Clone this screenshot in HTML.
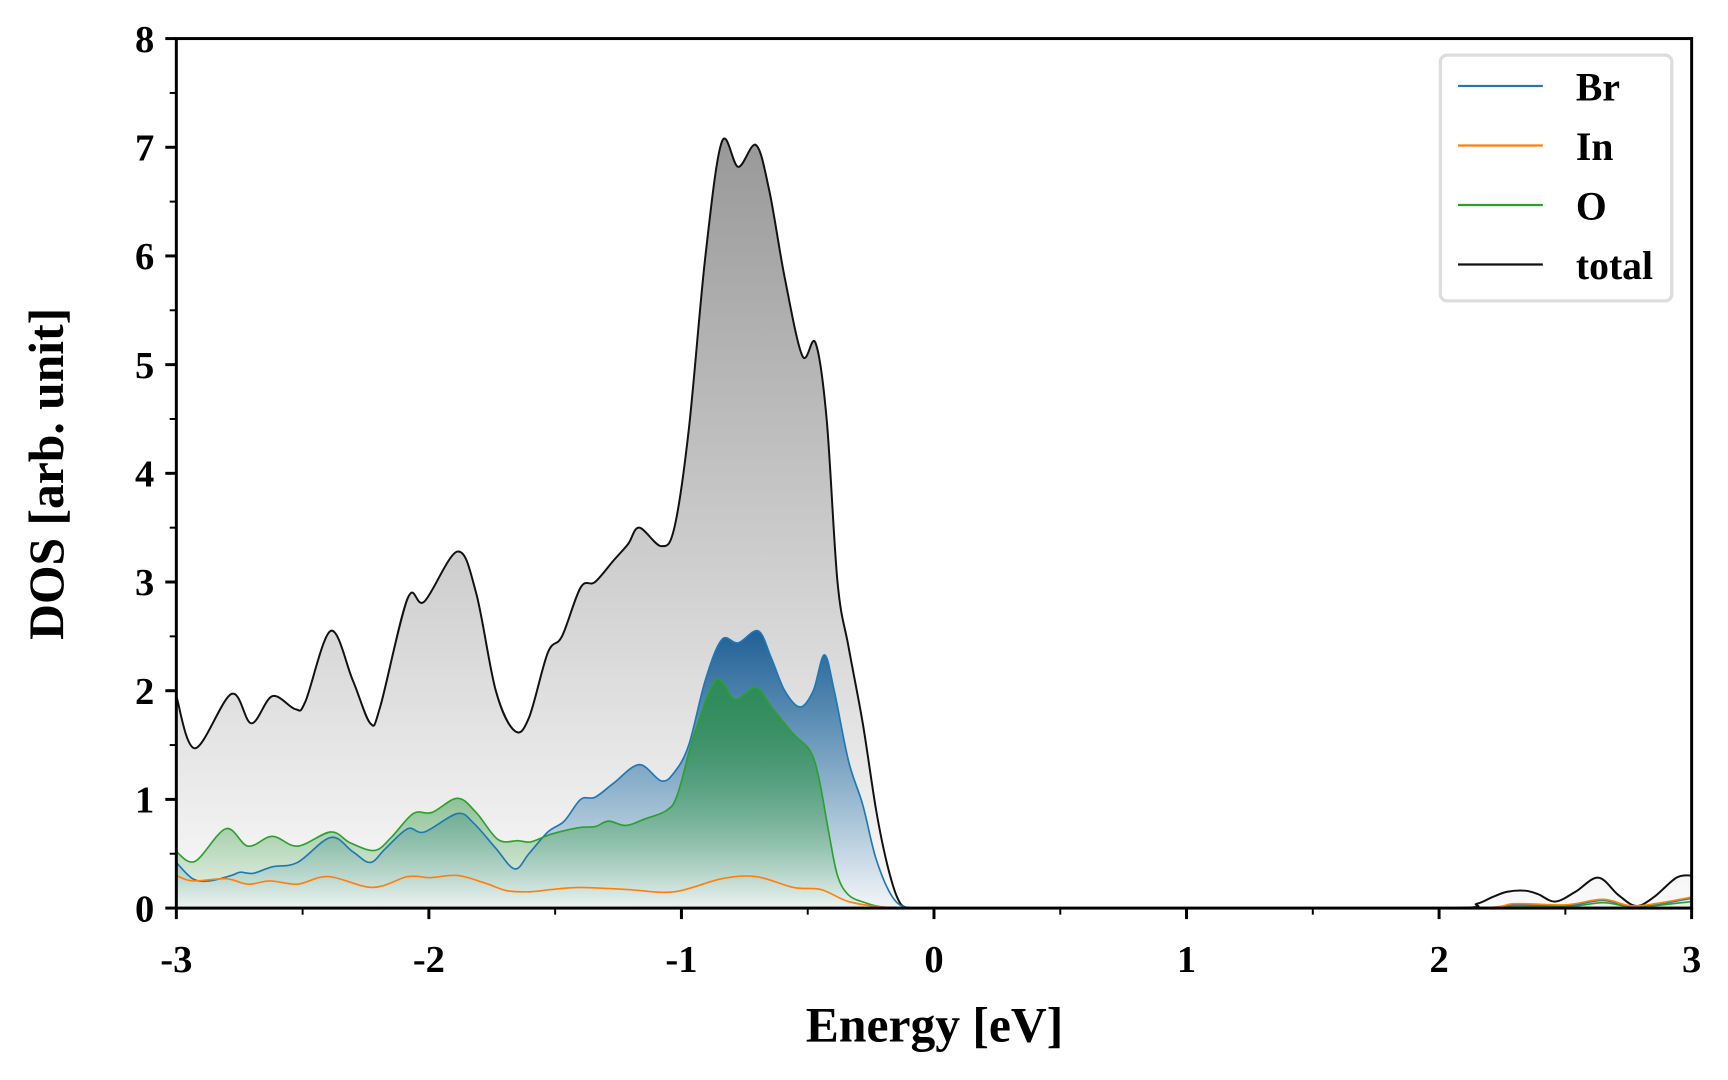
<!DOCTYPE html>
<html><head><meta charset="utf-8"><style>
html,body{margin:0;padding:0;background:#fff;width:1728px;height:1080px;overflow:hidden}
svg text{font-family:"Liberation Serif",serif;font-weight:bold;fill:#000}
</style></head><body>
<svg id="chart" width="1728" height="1080" viewBox="0 0 1568 980" xmlns="http://www.w3.org/2000/svg">
<defs>
<linearGradient id="gTot" gradientUnits="userSpaceOnUse" x1="0" y1="130" x2="0" y2="824">
<stop offset="0" stop-color="#999"/><stop offset="1" stop-color="#fafafa"/></linearGradient>
<linearGradient id="gBr" gradientUnits="userSpaceOnUse" x1="0" y1="570" x2="0" y2="824">
<stop offset="0" stop-color="#1f5f95"/><stop offset="1" stop-color="#1f77b4" stop-opacity="0.03"/></linearGradient>
<linearGradient id="gO" gradientUnits="userSpaceOnUse" x1="0" y1="615" x2="0" y2="824">
<stop offset="0" stop-color="#2e8b57"/><stop offset="1" stop-color="#2ca02c" stop-opacity="0.03"/></linearGradient>
</defs>
<g id="fills"></g><g id="lines"></g><g id="axes"></g>
<g>
<rect x="1307" y="50" width="210" height="223" rx="6" fill="#fff" stroke="#ddd" stroke-width="3"/>
<line x1="1323" y1="78" x2="1400" y2="78" stroke="#1f77b4" stroke-width="2"/><text x="1430" y="91" font-size="36">Br</text>
<line x1="1323" y1="132" x2="1400" y2="132" stroke="#ff7f0e" stroke-width="2"/><text x="1430" y="145" font-size="36">In</text>
<line x1="1323" y1="186" x2="1400" y2="186" stroke="#2ca02c" stroke-width="2"/><text x="1430" y="199" font-size="36">O</text>
<line x1="1323" y1="240" x2="1400" y2="240" stroke="#111" stroke-width="2"/><text x="1430" y="253" font-size="36">total</text>
</g>
<text x="848" y="945" font-size="45" text-anchor="middle">Energy [eV]</text>
<text transform="translate(57,430) rotate(-90)" font-size="45" text-anchor="middle">DOS [arb. unit]</text>
</svg>
<script>
const totalE=[-3,-2.926,-2.782,-2.703,-2.62,-2.529,-2.489,-2.389,-2.302,-2.232,-2.193,-2.084,-2.018,-1.887,-1.813,-1.735,-1.66,-1.604,-1.529,-1.473,-1.399,-1.342,-1.268,-1.211,-1.167,-1.08,-1.028,-0.971,-0.905,-0.84,-0.775,-0.705,-0.652,-0.591,-0.521,-0.469,-0.425,-0.382,-0.338,-0.282,-0.229,-0.185,-0.142,-0.1,0,1,2.04,2.15,2.21,2.27,2.34,2.39,2.46,2.54,2.63,2.71,2.78,2.85,2.94,3];
const totalV=[1.95,1.47,1.97,1.7,1.95,1.83,1.9,2.55,2.1,1.7,1.85,2.85,2.82,3.28,2.9,2.0,1.63,1.75,2.35,2.5,2.95,3.0,3.2,3.35,3.5,3.33,3.5,4.4,6.0,7.05,6.82,7.02,6.6,5.8,5.08,5.2,4.5,3.0,2.4,1.7,0.9,0.4,0.08,0,0,0,0,0.04,0.1,0.15,0.16,0.13,0.06,0.15,0.28,0.12,0.02,0.1,0.28,0.3];
const brE=[-3,-2.935,-2.869,-2.782,-2.747,-2.695,-2.62,-2.52,-2.389,-2.302,-2.232,-2.171,-2.084,-2.018,-1.887,-1.822,-1.735,-1.66,-1.604,-1.529,-1.464,-1.399,-1.342,-1.268,-1.167,-1.08,-1.028,-0.971,-0.905,-0.84,-0.775,-0.696,-0.644,-0.591,-0.53,-0.478,-0.434,-0.395,-0.338,-0.282,-0.229,-0.164,-0.1,0,1,2.1,2.3,2.5,2.65,2.78,3];
const brV=[0.42,0.27,0.25,0.3,0.33,0.32,0.38,0.42,0.65,0.52,0.42,0.55,0.73,0.7,0.87,0.78,0.55,0.36,0.5,0.7,0.8,1.0,1.02,1.15,1.32,1.17,1.25,1.5,2.1,2.47,2.44,2.55,2.3,2.0,1.85,2.0,2.33,2.0,1.35,0.95,0.45,0.1,0,0,0,0,0.03,0.02,0.07,0.01,0.09];
const oE=[-3,-2.926,-2.804,-2.716,-2.62,-2.52,-2.389,-2.311,-2.215,-2.149,-2.062,-1.988,-1.887,-1.813,-1.726,-1.647,-1.595,-1.516,-1.407,-1.342,-1.289,-1.22,-1.145,-1.058,-1.015,-0.949,-0.862,-0.788,-0.705,-0.644,-0.556,-0.491,-0.456,-0.417,-0.382,-0.338,-0.273,-0.207,-0.12,0,1,2.1,2.3,2.5,2.65,2.78,3];
const oV=[0.52,0.43,0.73,0.57,0.66,0.57,0.7,0.6,0.53,0.65,0.87,0.88,1.01,0.88,0.63,0.62,0.61,0.68,0.74,0.75,0.8,0.76,0.82,0.9,1.05,1.6,2.1,1.92,2.03,1.85,1.6,1.45,1.2,0.7,0.3,0.12,0.05,0.01,0,0,0,0,0.02,0.01,0.05,0.01,0.06];
const inE=[-3,-2.935,-2.804,-2.716,-2.629,-2.52,-2.398,-2.223,-2.084,-1.996,-1.887,-1.778,-1.691,-1.604,-1.516,-1.399,-1.211,-1.028,-0.84,-0.705,-0.556,-0.447,-0.338,-0.207,-0.08,0,1,2.1,2.3,2.5,2.65,2.78,3];
const inV=[0.3,0.25,0.27,0.22,0.25,0.22,0.29,0.19,0.29,0.28,0.3,0.23,0.16,0.15,0.17,0.19,0.17,0.15,0.27,0.29,0.19,0.17,0.06,0.01,0,0,0,0,0.04,0.03,0.08,0.02,0.1];
const xTicks=[-3,-2,-1,0,1,2,3];
const xTickLabels=["-3","-2","-1","0","1","2","3"];
const yTicks=[0,1,2,3,4,5,6,7,8];
const yTickLabels=["0","1","2","3","4","5","6","7","8"];

const X0=160,X1=1535,Y0=824,Y1=35;
const sx=e=>X0+(e+3)/6*(X1-X0);
const sy=v=>Y0-v/8*(Y0-Y1);
const NS="http://www.w3.org/2000/svg";
function pathD(E,V){
  const p=E.map((e,i)=>[sx(e),sy(V[i])]);
  let d="M"+p[0][0].toFixed(2)+","+p[0][1].toFixed(2);
  for(let i=0;i<p.length-1;i++){
    const a=p[Math.max(i-1,0)],b=p[i],c=p[i+1],n=p[Math.min(i+2,p.length-1)];
    let c1y=b[1]+(c[1]-a[1])/6,c2y=c[1]-(n[1]-b[1])/6;
    c1y=Math.min(c1y,Y0);c2y=Math.min(c2y,Y0);
    d+=" C"+(b[0]+(c[0]-a[0])/6).toFixed(2)+","+c1y.toFixed(2)+" "+(c[0]-(n[0]-b[0])/6).toFixed(2)+","+c2y.toFixed(2)+" "+c[0].toFixed(2)+","+c[1].toFixed(2);
  }
  return d;
}
const fills=document.getElementById('fills'),lines=document.getElementById('lines'),axes=document.getElementById('axes');
function series(E,V,color,fill,name,lw){
  const d=pathD(E,V);
  if(fill){
    const f=document.createElementNS(NS,'path');
    f.setAttribute('d',d+" L"+sx(E[E.length-1])+","+Y0+" L"+sx(E[0])+","+Y0+" Z");
    f.setAttribute('fill',fill);
    
    
    fills.appendChild(f);
  }
  const l=document.createElementNS(NS,'path');
  l.setAttribute('d',d);l.setAttribute('fill','none');l.setAttribute('stroke',color);l.setAttribute('stroke-width',lw);
  
  
  lines.appendChild(l);
}
series(totalE,totalV,'#111','url(#gTot)','total',1.8);
series(brE,brV,'#1f77b4','url(#gBr)','br',1.5);
series(oE,oV,'#2ca02c','url(#gO)','o',1.5);
series(inE,inV,'#ff7f0e',null,'in',1.5);

function ln(x1,y1,x2,y2,w){const l=document.createElementNS(NS,'line');l.setAttribute('x1',x1);l.setAttribute('y1',y1);l.setAttribute('x2',x2);l.setAttribute('y2',y2);l.setAttribute('stroke','#000');l.setAttribute('stroke-width',w);axes.appendChild(l);return l;}
function tx(x,y,s,anchor){const t=document.createElementNS(NS,'text');t.setAttribute('x',x);t.setAttribute('y',y);t.setAttribute('font-size','35');t.setAttribute('text-anchor',anchor);t.textContent=s;axes.appendChild(t);return t;}
const frame=document.createElementNS(NS,'rect');
frame.setAttribute('x',X0);frame.setAttribute('y',Y1);frame.setAttribute('width',X1-X0);frame.setAttribute('height',Y0-Y1);
frame.setAttribute('fill','none');frame.setAttribute('stroke','#000');frame.setAttribute('stroke-width','2.7');


axes.appendChild(frame);
xTicks.forEach((v,i)=>{
  const t=ln(sx(v),Y0,sx(v),Y0+10,2.7);
  
  
  const lb=tx(sx(v),Y0+58,xTickLabels[i],'middle');
  
  
  if(i<xTicks.length-1){const m=ln(sx(v+0.5),Y0,sx(v+0.5),Y0+6,1.8);
    
    }
});
yTicks.forEach((v,i)=>{
  const t=ln(X0-10,sy(v),X0,sy(v),2.7);
  
  
  const lb=tx(X0-20,sy(v)+12,yTickLabels[i],'end');
  
  
  if(i<yTicks.length-1){const m=ln(X0-6,sy(v+0.5),X0,sy(v+0.5),1.8);
    
    }
});
</script>
</body></html>
